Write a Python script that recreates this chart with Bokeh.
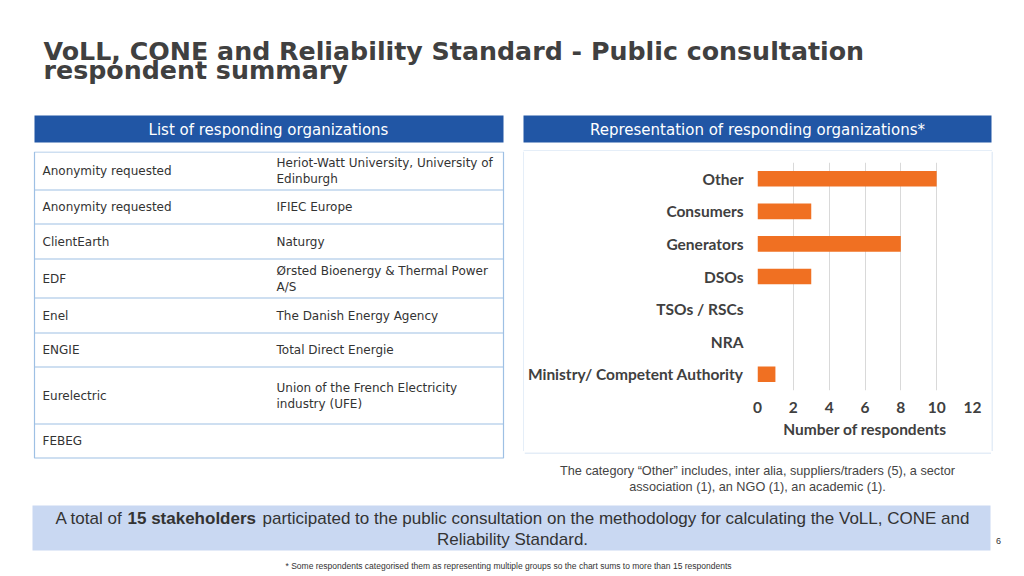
from bokeh.plotting import figure
from bokeh.models import Range1d, FactorRange, FixedTicker
from bokeh.layouts import column, row
from bokeh.core.properties import value
from bokeh.embed import file_html
from bokeh.resources import INLINE

# ---------------- data ----------------
categories = ["Other", "Consumers", "Generators", "DSOs", "TSOs / RSCs", "NRA",
              "Ministry/ Competent Authority"]
respondents = [10, 3, 8, 3, 0, 0, 1]
x_ticks = [0, 2, 4, 6, 8, 10, 12]

org_left = ["Anonymity requested", "Anonymity requested", "ClientEarth", "EDF", "Enel",
            "ENGIE", "Eurelectric", "FEBEG"]
org_right = ["Heriot-Watt University, University of\nEdinburgh", "IFIEC Europe", "Naturgy",
             "Ørsted Bioenergy & Thermal Power\nA/S", "The Danish Energy Agency",
             "Total Direct Energie", "Union of the French Electricity\nindustry (UFE)", ""]

title_lines = ["VoLL, CONE and Reliability Standard - Public consultation", "respondent summary"]
left_header = "List of responding organizations"
right_header = "Representation of responding organizations*"
x_label = "Number of respondents"
caption_lines = ["The category \u201cOther\u201d includes, inter alia, suppliers/traders (5), a sector",
                 "association (1), an NGO (1), an academic (1)."]
banner_parts = ["A total of", "15 stakeholders",
                "participated to the public consultation on the methodology for calculating the VoLL, CONE and"]
banner_line2 = "Reliability Standard."
footnote = "* Some respondents categorised them as representing multiple groups so the chart sums to more than 15 respondents"
page_no = "6"

# ---------------- styles / layout ----------------
BLUE = "#2156a5"
ORANGE = "#f07022"
DARK = "#404040"
TABLE_LINE = "#9ec0e4"
BOX_LINE = "#cadcf0"
W = 1024


def canvas(w, h):
    p = figure(width=w, height=h, x_range=Range1d(0, w), y_range=Range1d(h, 0),
               output_backend="svg", toolbar_location=None, min_border=0,
               x_axis_type=None, y_axis_type=None, frame_align=False)
    p.grid.visible = False
    p.outline_line_color = None
    p.background_fill_color = "white"
    p.border_fill_color = "white"
    return p


# ---- top: title + headers (page y 0..151) ----
top = canvas(W, 151)
top.text(x=[43, 43], y=[50.5, 70], text=title_lines, text_font=value("DejaVu Sans"),
         text_font_size="25.3px", text_font_style="bold", text_color=DARK,
         text_baseline="middle", text_align="left")
top.quad(left=[34, 523], right=[503, 991], top=[115, 115], bottom=[142, 142],
         fill_color=BLUE, line_color=None)
top.text(x=[268, 757], y=[129, 129], text=[left_header, right_header],
         text_font=value("DejaVu Sans"), text_font_size="15px", text_color="white",
         text_baseline="middle", text_align="center")
# top edge of the chart box
top.segment(x0=[523], x1=[991.5], y0=[150.5], y1=[150.5], line_color=BOX_LINE, line_width=1)

# ---- middle left: table (page x 0..524, y 151..460) ----
row_h = [38, 34, 35, 39, 35, 34, 57, 34]
tbl = canvas(524, 309)
tx0, tx1, tcol = 34, 503, 276
bounds = [0.5]
for h in row_h:
    bounds.append(bounds[-1] + h)
tbl.quad(left=[tx0], right=[tx1], top=[bounds[0]], bottom=[bounds[-1]],
         fill_color="white", line_color=TABLE_LINE, line_width=1.2)
tbl.segment(x0=[tx0] * (len(bounds) - 2), x1=[tx1] * (len(bounds) - 2),
            y0=bounds[1:-1], y1=bounds[1:-1], line_color=TABLE_LINE, line_width=1.2)
centers = [(bounds[i] + bounds[i + 1]) / 2 for i in range(len(row_h))]
lx, ly, lt = [], [], []
for c, name in zip(centers, org_left):
    lx.append(tx0 + 8); ly.append(c); lt.append(name)
for c, name in zip(centers, org_right):
    parts = name.split("\n") if name else []
    n = len(parts)
    for k, part in enumerate(parts):
        lx.append(tcol); ly.append(c + (k - (n - 1) / 2) * 16); lt.append(part)
tbl.text(x=lx, y=ly, text=lt, text_font=value("DejaVu Sans"), text_font_size="12px",
         text_color="#333333", text_baseline="middle", text_align="left")
# left edge of the chart box
tbl.segment(x0=[523.5], x1=[523.5], y0=[0], y1=[299.5], line_color=BOX_LINE, line_width=1)

# ---- middle: bar chart (page x 524..991, y 151..450) ----
cp = figure(width=467, height=299, y_range=FactorRange(*categories[::-1]),
            x_range=Range1d(0, 12), output_backend="svg", toolbar_location=None,
            min_border_left=233, min_border_right=19, min_border_top=11,
            min_border_bottom=60, frame_align=False)
cp.hbar(y=categories, right=respondents, height=0.48, fill_color=ORANGE, line_color=None)
cp.outline_line_color = None
cp.ygrid.visible = False
cp.xgrid.grid_line_color = "#d9d9d9"
cp.xaxis.ticker = FixedTicker(ticks=x_ticks)
for ax in (cp.xaxis[0], cp.yaxis[0]):
    ax.axis_line_color = None
    ax.major_tick_line_color = None
    ax.minor_tick_line_color = None
    ax.major_tick_out = 0
    ax.major_tick_in = 0
    ax.minor_tick_out = 0
    ax.minor_tick_in = 0
    ax.major_label_text_font = "Lato"
    ax.major_label_text_font_style = "bold"
    ax.major_label_text_font_size = "15.5px"
    ax.major_label_text_color = DARK
cp.xaxis.major_label_standoff = 11
cp.yaxis.major_label_standoff = 14
cp.xaxis.axis_label = x_label
cp.xaxis.axis_label_text_font = "Lato"
cp.xaxis.axis_label_text_font_style = "bold"
cp.xaxis.axis_label_text_font_size = "15.5px"
cp.xaxis.axis_label_text_color = DARK
cp.xaxis.axis_label_standoff = 4

# bottom edge of the chart box (page y 450..460)
cpad = canvas(467, 10)
cpad.segment(x0=[0], x1=[467], y0=[0.5], y1=[0.5], line_color=BOX_LINE, line_width=1)

# right edge of the chart box (page x 991..1024)
rpad = canvas(33, 309)
rpad.segment(x0=[0.5], x1=[0.5], y0=[0], y1=[299.5], line_color=BOX_LINE, line_width=1)

# ---- bottom: caption, banner, footnote (page y 460..576) ----
bot = canvas(W, 116)
bot.text(x=[757, 757], y=[10, 26], text=caption_lines, text_font=value("Liberation Sans"),
         text_font_size="12.7px", text_color="#444444", text_baseline="middle",
         text_align="center")
bot.quad(left=[32], right=[990], top=[45], bottom=[90], fill_color="#c9d8f2", line_color=None)
bot.text(x=[55], y=[58], text=[banner_parts[0]], text_font=value("Liberation Sans"),
         text_font_size="17px", text_color="#333333", text_baseline="middle", text_align="left")
bot.text(x=[127], y=[58], text=[banner_parts[1]], text_font=value("Liberation Sans"),
         text_font_size="17px", text_font_style="bold", text_color="#333333",
         text_baseline="middle", text_align="left")
bot.text(x=[262], y=[58], text=[banner_parts[2]], text_font=value("Liberation Sans"),
         text_font_size="17px", text_color="#333333", text_baseline="middle", text_align="left")
bot.text(x=[512], y=[79], text=[banner_line2], text_font=value("Liberation Sans"),
         text_font_size="17px", text_color="#333333", text_baseline="middle", text_align="center")
bot.text(x=[998], y=[80], text=[page_no], text_font=value("Liberation Sans"),
         text_font_size="9px", text_color="#333333", text_baseline="middle", text_align="center")
bot.text(x=[508], y=[105], text=[footnote], text_font=value("Liberation Sans"),
         text_font_size="8.5px", text_color="#333333", text_baseline="middle", text_align="center")

layout = column(top, row(tbl, column(cp, cpad), rpad), bot)
open("out.html", "w").write(file_html(layout, INLINE))
